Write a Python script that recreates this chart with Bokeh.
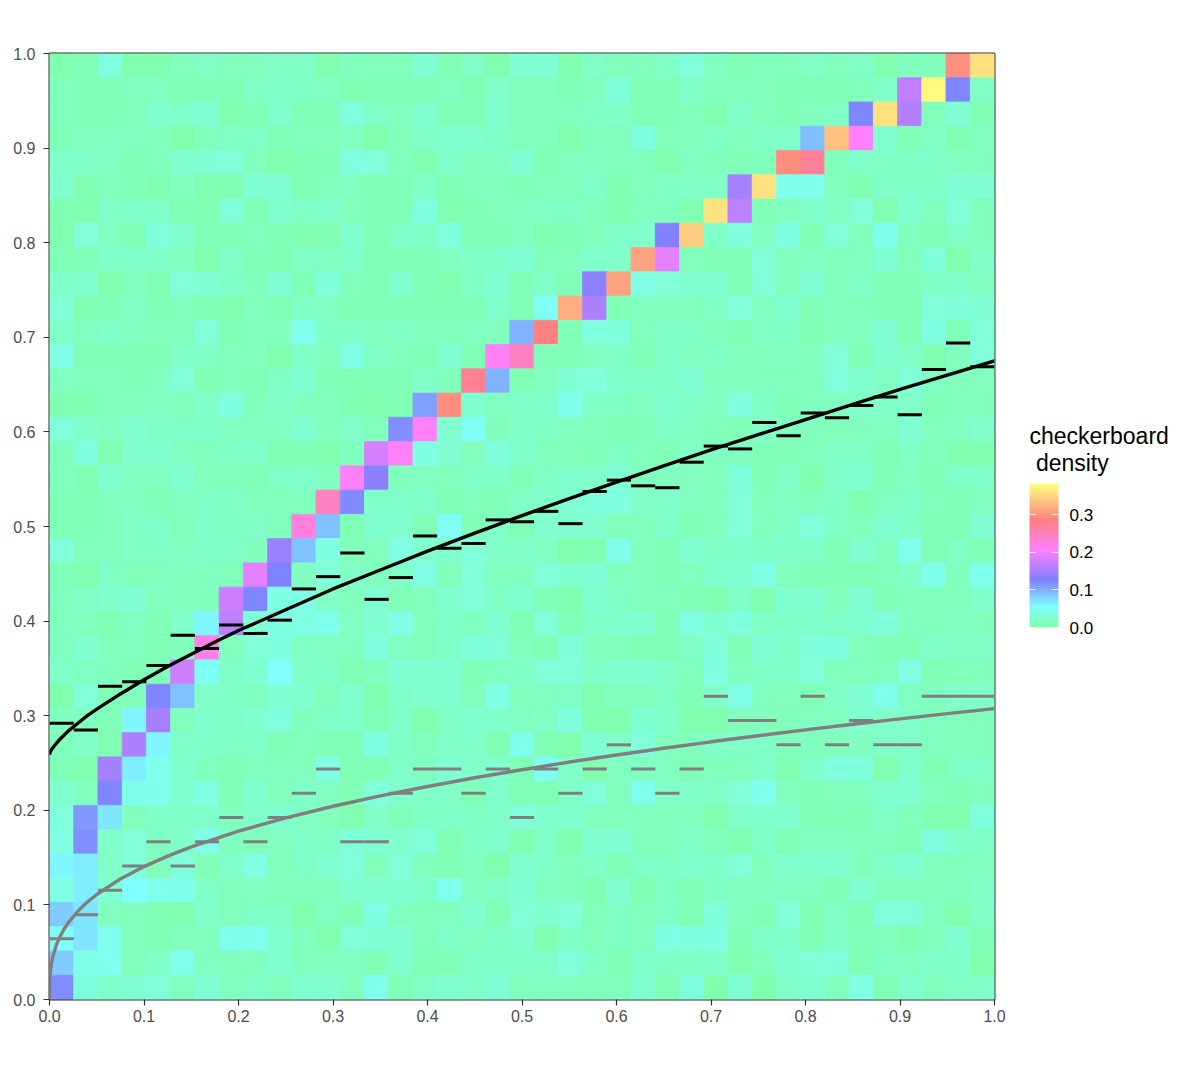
from bokeh.embed import file_html
from bokeh.resources import INLINE
from bokeh.plotting import figure
from bokeh.models import (ColumnDataSource, LinearColorMapper, ColorBar, FixedTicker,
                          Label, PrintfTickFormatter, Range1d)
from bokeh.transform import transform

# checkerboard density per cell, thousandths; rows run top to bottom, 39 columns each
row_00 = [5,8,35,4,4,14,18,14,14,18,18,5,14, 12,12,28,8,18,4,28,28,5,18,12,12,18, 32,16,9,14,14,18,14,18,5,14,12,297,358]
row_01 = [12,9,9,15,15,10,9,8,18,22,18,15,6, 9,9,9,15,6,22,12,14,9,12,32,8,9, 20,12,12,12,9,8,9,12,20,167,378,125,18]
row_02 = [12,9,9,12,25,22,28,5,9,25,10,8,35, 20,15,25,9,9,24,12,14,16,18,20,9,9, 12,5,22,12,8,14,18,125,360,160,12,28,8]
row_03 = [10,16,16,16,12,4,12,18,18,10,14,12,16, 4,12,20,24,24,18,12,12,4,12,12,35,12, 12,18,14,20,22,92,334,205,24,9,18,6,16]
row_04 = [22,20,16,8,12,26,28,30,12,4,8,9,35, 30,12,5,22,14,16,28,8,16,16,14,14,4, 16,14,10,12,295,270,12,20,18,18,20,16,14]
row_05 = [24,6,12,8,6,14,6,6,28,28,8,12,16, 9,9,20,8,14,14,9,12,12,22,6,14,18, 20,18,150,360,42,42,14,6,20,20,20,28,28]
row_06 = [6,6,20,22,20,8,6,32,8,24,18,22,12, 10,10,35,6,8,12,16,18,18,12,5,16,16, 6,360,165,10,14,24,16,30,6,24,14,30,12]
row_07 = [3,30,16,9,32,24,8,8,16,8,6,6,24, 8,22,18,35,10,10,16,5,10,12,22,22,130, 344,22,32,14,38,8,30,14,42,14,10,18,12]
row_08 = [10,9,20,22,22,16,4,20,9,6,18,15,22, 9,8,9,16,20,22,28,12,12,22,22,310,190, 12,9,10,30,12,16,12,14,28,12,32,4,20]
row_09 = [22,24,4,16,6,30,28,18,14,28,10,32,12, 10,24,9,5,20,26,9,18,8,135,310,40,30, 26,26,10,30,12,28,12,22,10,10,18,22,16]
row_10 = [30,6,9,18,10,12,8,5,12,8,18,16,8, 9,9,9,9,10,22,9,48,320,155,10,14,14, 14,20,30,16,26,10,14,12,8,8,30,32,28]
row_11 = [18,16,20,16,14,14,32,9,14,12,42,18,20, 16,18,14,12,16,16,100,285,9,34,34,14,22, 20,14,8,18,18,8,14,16,28,8,36,9,30]
row_12 = [40,9,9,9,8,20,18,12,12,4,20,14,38, 20,12,9,24,10,210,245,9,9,16,18,10,22, 16,20,14,14,16,14,30,9,26,20,6,14,30]
row_13 = [14,12,14,10,16,30,8,12,10,18,26,9,8, 10,10,18,12,275,100,8,16,28,34,22,22,22, 28,12,14,14,14,12,34,24,16,30,18,12,16]
row_14 = [6,6,14,14,16,12,20,36,14,20,12,14,6, 5,8,110,295,24,14,22,22,42,20,18,16,24, 18,16,35,18,10,16,14,18,18,22,10,14,12]
row_15 = [32,22,16,24,22,18,20,16,16,16,26,14,22, 12,120,210,26,50,12,22,18,16,14,10,10,20, 16,12,10,20,14,14,12,14,16,28,12,16,22]
row_16 = [12,34,6,24,24,16,12,20,22,6,8,5,14, 180,210,36,26,14,34,20,14,12,10,18,14,10, 18,16,16,9,9,12,18,18,10,18,14,5,5]
row_17 = [14,6,24,16,16,26,12,12,10,18,20,14,210, 135,12,16,12,20,20,10,18,24,22,28,16,14, 14,14,34,10,18,4,22,24,10,16,8,20,22]
row_18 = [10,10,16,16,9,16,20,18,12,12,12,245,122, 22,22,22,9,12,10,22,18,28,34,34,22,22, 16,14,30,12,16,14,18,6,16,18,12,10,16]
row_19 = [10,10,14,18,20,12,20,20,18,14,225,90,8, 24,24,10,48,10,18,8,26,26,24,12,12,22, 10,12,30,14,18,34,18,12,26,20,10,8,28]
row_20 = [34,12,14,18,18,16,22,22,12,145,90,36,10, 12,36,26,22,30,22,22,16,4,6,42,14,10, 26,18,22,20,20,22,10,26,14,42,10,18,8]
row_21 = [10,6,18,12,12,14,14,12,190,128,16,30,20, 12,18,40,12,30,14,14,30,24,28,14,14,10, 14,24,26,38,14,9,10,8,14,18,42,14,44]
row_22 = [16,18,24,28,16,14,14,175,125,38,40,18,12, 28,10,14,26,30,18,26,8,6,24,18,14,14, 8,6,18,6,26,26,12,28,10,14,14,12,22]
row_23 = [14,14,8,16,8,20,60,165,30,36,36,42,16, 26,38,12,20,14,26,8,30,10,18,24,24,8, 36,24,34,18,22,22,18,24,32,16,14,16,12]
row_24 = [16,24,12,16,8,12,220,14,30,34,18,16,16, 34,16,14,18,32,30,14,10,32,14,14,8,8, 18,34,10,28,18,34,34,12,10,10,22,18,18]
row_25 = [20,16,16,10,10,175,48,18,26,55,22,22,10, 16,28,26,26,8,16,18,30,30,20,26,26,22, 14,36,14,20,20,30,12,14,14,36,8,12,12]
row_26 = [4,30,8,12,125,90,22,18,16,28,24,14,24, 6,22,26,26,14,38,12,16,18,6,14,14,18, 8,22,40,14,14,10,18,28,44,16,14,22,18]
row_27 = [16,12,10,60,150,12,24,20,26,34,14,18,22, 10,20,3,18,24,22,16,18,34,6,4,26,22, 4,4,12,14,10,16,14,24,20,20,14,14,14]
row_28 = [12,20,6,155,60,22,22,20,18,10,12,8,8, 38,18,12,20,22,8,44,8,4,28,18,34,12, 14,18,18,18,12,14,14,14,20,18,16,14,12]
row_29 = [10,6,150,65,42,24,14,8,16,16,14,38,8, 8,22,14,28,20,24,10,46,18,5,16,16,16, 8,14,12,22,6,22,34,32,6,22,8,18,18]
row_30 = [24,14,125,42,44,26,36,8,24,12,18,16,10, 34,22,18,18,10,22,8,8,22,34,14,42,20, 22,18,30,44,14,8,12,14,26,26,12,10,14]
row_31 = [34,115,70,12,18,22,22,16,20,24,16,12,6, 22,10,18,18,18,20,30,24,24,16,12,14,14, 16,6,18,24,24,10,10,10,22,12,6,4,34]
row_32 = [36,120,20,30,16,18,42,14,12,16,20,18,34, 26,24,30,8,18,22,6,18,6,26,28,14,14, 20,14,6,18,8,16,16,14,14,8,34,24,18]
row_33 = [60,65,20,30,10,34,8,22,36,12,18,26,32, 12,30,14,8,16,4,24,22,14,18,10,18,18, 24,18,30,12,24,24,24,12,20,28,14,12,16]
row_34 = [40,65,30,55,44,42,20,14,16,12,12,14,24, 24,26,22,44,16,18,28,16,14,6,24,6,18, 8,18,16,16,16,16,8,26,14,14,14,16,18]
row_35 = [85,70,14,12,8,6,22,14,18,18,4,16,8, 38,16,12,14,26,8,30,24,30,12,18,14,20, 8,32,14,10,30,6,18,8,32,32,16,4,20]
row_36 = [50,70,44,14,8,12,14,44,44,24,14,5,30, 28,28,14,20,16,18,24,6,18,12,18,16,38, 34,38,10,22,22,10,20,10,12,6,14,26,8]
row_37 = [85,40,46,12,18,42,14,12,14,26,14,14,16, 8,24,10,10,18,20,22,18,34,20,8,22,18, 18,22,6,14,26,30,34,8,20,16,22,22,3]
row_38 = [120,34,22,28,30,14,28,16,20,14,24,24,14, 44,10,20,26,22,28,14,16,16,12,12,24,8, 34,3,28,2,20,24,14,38,8,24,14,18,22]
rows = [row_00,row_01,row_02,row_03,row_04,row_05,row_06,row_07,row_08,row_09,
        row_10,row_11,row_12,row_13,row_14,row_15,row_16,row_17,row_18,row_19,
        row_20,row_21,row_22,row_23,row_24,row_25,row_26,row_27,row_28,row_29,
        row_30,row_31,row_32,row_33,row_34,row_35,row_36,row_37,row_38]

# step values per column
black_steps = [.292,.285,.331,.336,.353,.385,.371,.396,.387,.401,.434,.447,.472,.423,.446,.490,.477,.482,.507,.505,
               .516,.503,.537,.549,.543,.541,.568,.585,.582,.610,.596,.620,.615,.628,.637,.618,.666,.694,.669]
grey_steps = [.0641,.0897,.1154,.141,.1667,.141,.1667,.1923,.1667,.1923,.2179,.2436,.1667,.1667,.2179,.2436,.2436,.2179,.2436,.1923,
              .2436,.2179,.2436,.2692,.2436,.2179,.2436,.3205,.2949,.2949,.2692,.3205,.2692,.2949,.2692,.2692,.3205,.3205,.3205]

# fitted curves
black_x = [0,.0005,.002,.005,.01,.02,.03,.04,.05,.075,.1,.125,.15,.175,.2,.25,.3,.35,.4,.45,.5,.55,.6,.65,.7,.75,.8,.85,.9,.95,1]
black_y = [.259,.261,.264,.268,.274,.284,.292,.300,.307,.323,.338,.352,.365,.378,.390,.412,.434,.454,.474,.493,.5115,.5295,.547,.564,.581,.597,.613,.629,.645,.660,.675]
grey_x = [0,.0001,.0005,.001,.002,.004,.007,.01,.015,.02,.03,.04,.05,.075,.1,.125,.15,.2,.25,.3,.35,.4,.45,.5,.55,.6,.65,.7,.75,.8,.85,.9,.95,1]
grey_y = [0,.0134,.0232,.0294,.0372,.0471,.0569,.0642,.0737,.0813,.0933,.103,.111,.1275,.1405,.1516,.1613,.1779,.192,.2043,.2152,.2252,.2344,.2429,.251,.2585,.2656,.2724,.2788,.285,.291,.2967,.3022,.3075]

# colour scale stops
stop_values = [0, .055, .128, .205, .285, .383]
stop_colors = [(0x80,0xFF,0xAA),(0x80,0xFF,0xFF),(0x80,0x80,0xFF),(0xFF,0x80,0xFF),(0xFF,0x80,0x80),(0xFF,0xFF,0x80)]
legend_ticks = [0, .1, .2, .3]
axis_ticks = [0, .1, .2, .3, .4, .5, .6, .7, .8, .9, 1]
legend_title = "checkerboard\n\u00a0density"

def palette_from_stops(n=256):
    out = []
    for i in range(n):
        v = stop_values[-1] * i / (n - 1)
        for k in range(len(stop_values) - 1):
            if v <= stop_values[k + 1]:
                f = (v - stop_values[k]) / (stop_values[k + 1] - stop_values[k])
                a, b = stop_colors[k], stop_colors[k + 1]
                out.append("#%02x%02x%02x" % tuple(round(a[j] + f * (b[j] - a[j])) for j in range(3)))
                break
    return out

mapper = LinearColorMapper(palette=palette_from_stops(), low=stop_values[0], high=stop_values[-1])

n = len(rows)
w = 1 / n
xs, ys, ds = [], [], []
for t, r in enumerate(rows):
    assert len(r) == n, t
    for c, v in enumerate(r):
        xs.append((c + .5) * w)
        ys.append(1 - (t + .5) * w)
        ds.append(v / 1000)
cells = ColumnDataSource(dict(x=xs, y=ys, d=ds))

p = figure(width=1192, height=1072, frame_width=945, frame_height=946,
           x_range=Range1d(0, 1), y_range=Range1d(0, 1),
           min_border_left=49, min_border_top=53, min_border_right=198, min_border_bottom=73,
           toolbar_location=None, output_backend="svg", tools="")
p.rect("x", "y", width=w, height=w, source=cells, fill_color=transform("d", mapper),
       line_color=transform("d", mapper), line_width=0.8)

lefts = [i * w for i in range(n)]
rights = [(i + 1) * w for i in range(n)]
p.segment(lefts, grey_steps, rights, grey_steps, line_color="#7f7f7f", line_width=3, line_cap="butt")
p.segment(lefts, black_steps, rights, black_steps, line_color="#000000", line_width=3, line_cap="butt")
p.line(grey_x, grey_y, line_color="#7f7f7f", line_width=3.4)
p.line(black_x, black_y, line_color="#000000", line_width=3.4)

p.grid.visible = False
p.outline_line_color = "#333333"
p.outline_line_width = 2
p.background_fill_color = "white"
for ax, standoff in ((p.xaxis[0], 4), (p.yaxis[0], 8)):
    ax.ticker = FixedTicker(ticks=axis_ticks)
    ax.formatter = PrintfTickFormatter(format="%.1f")
    ax.axis_line_color = None
    ax.major_tick_line_color = "#333333"
    ax.major_tick_line_width = 1.2
    ax.major_tick_in = 0
    ax.major_tick_out = 6
    ax.minor_tick_line_color = None
    ax.major_label_text_color = "#4d4d4d"
    ax.major_label_text_font = "Liberation Sans"
    ax.major_label_text_font_size = "16px"
    ax.major_label_standoff = standoff

cb = ColorBar(color_mapper=mapper, ticker=FixedTicker(ticks=legend_ticks),
              formatter=PrintfTickFormatter(format="%.1f"),
              location=(980, 372), width=29, height=144, padding=0, margin=0,
              major_tick_line_color="#ffffff", major_tick_line_width=1,
              major_tick_in=29, major_tick_out=0, major_tick_line_dash="6 17 6",
              minor_tick_line_color=None, bar_line_color=None,
              label_standoff=11, major_label_text_color="#000000",
              major_label_text_font="Liberation Sans", major_label_text_font_size="17px",
              background_fill_color=None, border_line_color=None)
p.add_layout(cb, "center")

p.add_layout(Label(x=35, y=523, x_units="screen", y_units="screen", text=legend_title,
                   text_font="Liberation Sans", text_font_size="23px", text_color="#000000",
                   text_baseline="bottom", text_line_height=1.05), "right")

open("out.html", "w").write(file_html(p, INLINE))
